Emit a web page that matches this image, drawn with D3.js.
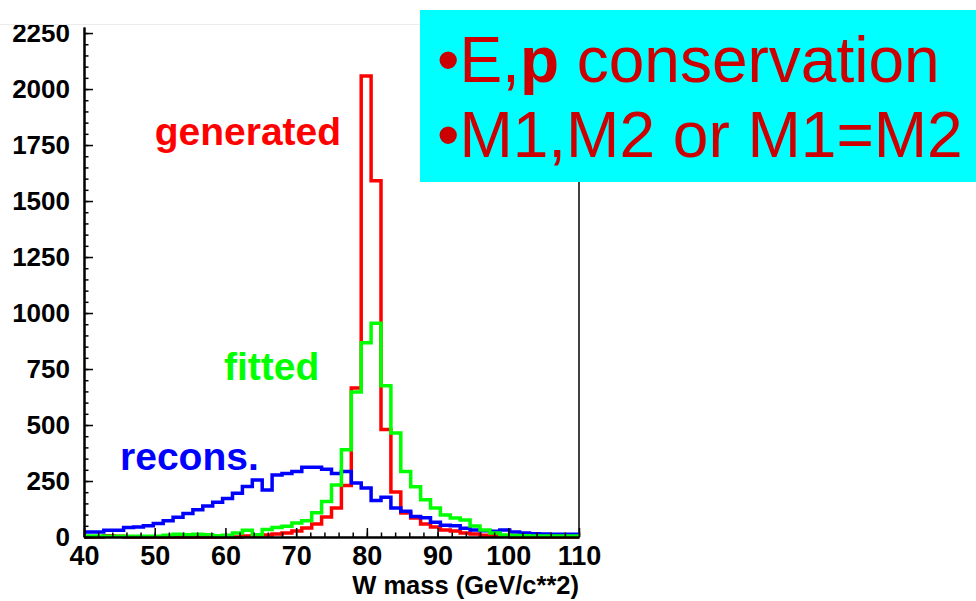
<!DOCTYPE html>
<html>
<head>
<meta charset="utf-8">
<script src="https://cdn.jsdelivr.net/npm/d3@7"></script>
<style>
  body { margin: 0; background: #fff; }
  svg { display: block; font-family: "Liberation Sans", Arial, sans-serif; }
</style>
</head>
<body>
<svg id="chart" width="976" height="601"></svg>
<script>
// W mass histograms, 50 bins of 1.4 GeV from 40 to 110
const binStart = 40, binWidth = 1.4, nBins = 50;

const generated = [0,0,6,3,0,0,0,0,0,0, 0,0,0,0,0,0,5,3,9,13,
  18,27,40,58,89,129,230,665,2058,1590, 480,201,107,85,58,45,31,27,18,13,
  8,6,3,0,0,0,0,0,0,0];
const fitted = [5,5,3,3,3,3,3,3,8,12, 10,12,10,6,8,18,30,10,33,42,
  48,62,72,108,158,232,390,647,867,954, 675,464,292,224,166,130,98,85,76,49,
  31,18,9,7,6,5,5,4,4,4];
const recons = [22,22,30,30,42,45,50,60,72,88, 105,122,138,155,172,195,225,254,210,277,
  284,292,311,311,302,284,292,241,219,163, 178,129,115,91,86,66,52,50,39,31,
  28,26,31,22,18,14,13,12,12,12];

const xTicks = [40,50,60,70,80,90,100,110];
const yTicks = [0,250,500,750,1000,1250,1500,1750,2000,2250];

const series = [
  {name: 'generated', values: generated, color: '#ff0000', label: [50, 1750]},
  {name: 'recons.',   values: recons,    color: '#0000ff', label: [45.1, 300]},
  {name: 'fitted',    values: fitted,    color: '#00ff00', label: [59.8, 700]}
];

const bullets = [
  [{t: '\u2022E,'}, {t: 'p', b: true}, {t: ' conservation'}],
  [{t: '\u2022M1,M2 or M1=M2'}]
];

const svg = d3.select('#chart');

// x/y scales
const x = d3.scaleLinear().domain([40, 110]).range([84, 579]);
const y = d3.scaleLinear().domain([0, 2277]).range([537, 27]);

svg.append('defs').append('clipPath').attr('id', 'clip')
  .append('rect').attr('x', 0).attr('y', 25).attr('width', 976).attr('height', 576);

const g = svg.append('g').attr('clip-path', 'url(#clip)');

// faint image edge on top
svg.append('line').attr('x1', 0).attr('x2', 420).attr('y1', 24.5).attr('y2', 24.5)
  .attr('stroke', '#ececec').attr('stroke-width', 1);

// right frame
g.append('line').attr('x1', x(110)).attr('x2', x(110)).attr('y1', y(2277)).attr('y2', y(0))
  .attr('stroke', '#000').attr('stroke-width', 1.5);

// histograms as step outlines
const edges = d3.range(nBins + 1).map(i => binStart + i * binWidth);
function stepPath(vals){
  let p = '';
  vals.forEach((v, i) => {
    p += (i == 0 ? 'M' : 'L') + x(edges[i]) + ',' + y(v) + 'L' + x(edges[i+1]) + ',' + y(v);
  });
  return p;
}

// red first, then blue, green on top
series.forEach(s => {
  g.append('path')
    .attr('d', stepPath(s.values))
    .attr('fill', 'none')
    .attr('stroke', s.color)
    .attr('stroke-width', 3.5)
    .attr('stroke-linejoin', 'miter');
});

// axes
const yAxis = d3.axisLeft(y).tickValues(yTicks).tickFormat(d3.format('d'))
  .tickSizeInner(-9).tickSizeOuter(0).tickPadding(14);
const yMinor = d3.axisLeft(y).tickValues(d3.range(0, 2251, 50)).tickSizeInner(-4.5).tickSizeOuter(0).tickFormat('');
const xAxis = d3.axisBottom(x).tickValues(xTicks).tickFormat(d3.format('d'))
  .tickSizeInner(-9).tickSizeOuter(0).tickPadding(9);
const xMinor = d3.axisBottom(x).tickValues(d3.range(40, 110.1, 2)).tickSizeInner(-4.5).tickSizeOuter(0).tickFormat('');

function styleAxis(sel, size){
  sel.select('.domain').attr('stroke', '#000').attr('stroke-width', 2);
  sel.selectAll('.tick line').attr('stroke', '#000').attr('stroke-width', 1.5);
  sel.selectAll('text').attr('fill', '#000').attr('font-size', size).attr('font-weight', 'bold')
    .attr('font-family', '"Liberation Sans", Arial, sans-serif');
}

g.append('g').attr('transform', 'translate(' + x(40) + ',0)').call(yMinor).call(styleAxis, 26);
g.append('g').attr('transform', 'translate(' + x(40) + ',0)').call(yAxis).call(styleAxis, 26);
g.append('g').attr('transform', 'translate(0,' + y(0) + ')').call(xMinor).call(styleAxis, 27);
g.append('g').attr('transform', 'translate(0,' + y(0) + ')').call(xAxis).call(styleAxis, 27);

// x axis title
svg.append('text')
  .attr('x', x(110)).attr('y', 594)
  .attr('text-anchor', 'end')
  .attr('font-size', 25.5).attr('font-weight', 'bold')
  .text('W mass (GeV/c**2)');

// series labels
series.forEach(s => {
  svg.append('text')
    .attr('x', x(s.label[0])).attr('y', y(s.label[1]))
    .attr('fill', s.color)
    .attr('font-size', 39).attr('font-weight', 'bold')
    .text(s.name);
});

// cyan note box
svg.append('rect').attr('x', 420).attr('y', 10).attr('width', 556).attr('height', 172)
  .attr('fill', '#00ffff');

const note = svg.append('text').attr('fill', '#cc0000').attr('font-size', 64);
bullets.forEach((line, i) => {
  line.forEach((part, j) => {
    const t = note.append('tspan').text(part.t);
    if (j == 0) t.attr('x', 437).attr('y', 82 + i * 75);
    if (part.b) t.attr('font-weight', 'bold');
  });
});
</script>
</body>
</html>
